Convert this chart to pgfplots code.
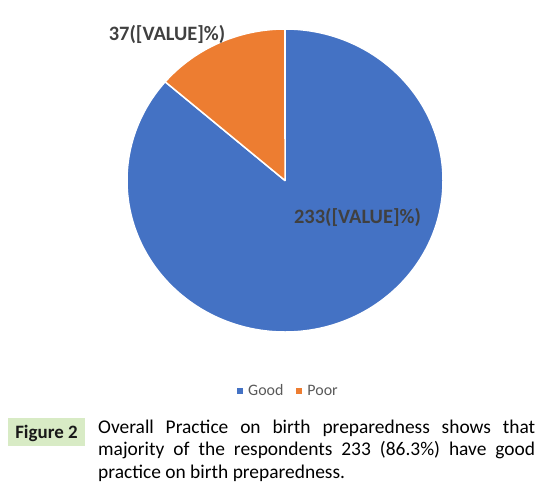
\documentclass[border=0pt]{standalone}
\usepackage{pgfplots}
\usepackage{pgfplotstable}
\pgfplotsset{compat=1.18}
\usepackage{fontspec}
\setmainfont{Carlito}
\definecolor{pieblue}{HTML}{4472C4}
\definecolor{pieorange}{HTML}{ED7D31}
\definecolor{lblgray}{HTML}{404040}
\definecolor{leggray}{HTML}{595959}
\definecolor{figgreen}{HTML}{D8EBC5}

\pgfplotstableread{
label value
Good 233
Poor 37
}\piedata

\begin{document}
\begin{tikzpicture}
\useasboundingbox (0,0) rectangle (543bp,-491bp);
\pgfplotstablegetelem{0}{value}\of\piedata \let\vGood\pgfplotsretval
\pgfplotstablegetelem{1}{value}\of\piedata \let\vPoor\pgfplotsretval
\pgfmathsetmacro{\tot}{\vGood+\vPoor}
\pgfmathsetmacro{\aA}{90}
\pgfmathsetmacro{\aB}{90-360*(\vGood/\tot)}
\pgfmathsetmacro{\aC}{\aB-360*(\vPoor/\tot)}
\pgfmathsetmacro{\xA}{cos(\aA)}\pgfmathsetmacro{\yA}{sin(\aA)}
\pgfmathsetmacro{\xB}{cos(\aB)}\pgfmathsetmacro{\yB}{sin(\aB)}
\begin{axis}[
  at={(285bp,-180.5bp)}, anchor=origin,
  x=158bp, y=151.5bp,
  xmin=-1, xmax=1, ymin=-1, ymax=1,
  hide axis, clip=false,
  legend style={at={(0.511,-0.195)}, anchor=center, draw=none, fill=none,
    text=leggray, font=\fontsize{16}{19}\selectfont,
    legend columns=-1,
    /tikz/every odd column/.append style={column sep=3bp},
    /tikz/every even column/.append style={column sep=11bp}},
  legend image code/.code={\fill[#1,draw=none] (0bp,-3bp) rectangle (6bp,3bp);},
]
\addplot[fill=pieblue, draw=white, line width=1.5bp, line join=round]
  coordinates {(0,0) (\xA,\yA)}
  arc[start angle=\aA, end angle=\aB, x radius=158bp, y radius=151.5bp] -- cycle;
\addlegendentry{Good}
\addplot[fill=pieorange, draw=white, line width=1.5bp, line join=round]
  coordinates {(0,0) (\xB,\yB)}
  arc[start angle=\aB, end angle=\aC, x radius=158bp, y radius=151.5bp] -- cycle;
\addlegendentry{Poor}
\end{axis}
\node[anchor=base, inner sep=0, text=lblgray, font=\fontsize{20.5}{24}\selectfont\bfseries] at (167bp,-40bp) {37([VALUE]\%)};
\node[anchor=base, inner sep=0, text=lblgray, font=\fontsize{20.5}{24}\selectfont\bfseries] at (357.5bp,-223bp) {233([VALUE]\%)};
\node[fill=figgreen, minimum width=77bp, minimum height=28bp, inner sep=0, anchor=north west] at (8bp,-418bp) {};
\node[anchor=base, inner sep=0, font=\fontsize{19}{22}\selectfont\bfseries, text=black!90] at (46.5bp,-438bp) {Figure 2};
\node[anchor=base west, inner sep=0, text width=437bp, align=justify, font=\fontsize{19.5}{23}\selectfont] at (98bp,-433bp)
  {Overall Practice on birth preparedness shows that\linebreak majority of the respondents 233 (86.3\%) have good\linebreak practice on birth preparedness.};
\end{tikzpicture}
\end{document}
